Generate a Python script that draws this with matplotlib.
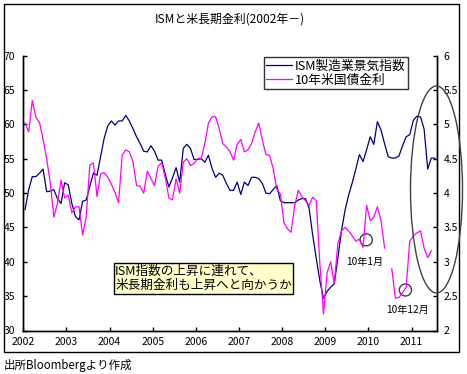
import numpy as np
import matplotlib
matplotlib.use("Agg")
import matplotlib.pyplot as plt
from matplotlib.patches import Ellipse, Rectangle

plt.rcParams['font.family'] = ['Noto Sans CJK JP', 'DejaVu Sans']

# monthly data, Jan 2002 - Jul 2011
years = [2002, 2003, 2004, 2005, 2006, 2007, 2008, 2009, 2010, 2011]

ism = [
    47.6, 50.5, 52.4, 52.4, 52.9, 53.5, 50.2, 50.3, 50.5, 49.2, 48.5, 51.5,   # 2002
    51.2, 48.5, 46.6, 46.1, 48.8, 49.0, 51.0, 52.9, 52.6, 55.3, 58.0, 59.8,   # 2003
    60.5, 59.9, 60.5, 60.5, 61.3, 60.5, 59.4, 58.2, 57.2, 56.1, 56.0, 56.9,   # 2004
    56.1, 54.8, 54.8, 52.7, 50.9, 52.2, 53.7, 51.6, 56.5, 57.1, 56.5, 54.9,   # 2005
    54.9, 55.0, 54.5, 55.5, 53.6, 52.3, 52.9, 52.6, 51.4, 50.4, 50.4, 51.6,   # 2006
    49.8, 51.6, 51.1, 52.3, 52.3, 52.1, 51.4, 50.0, 49.9, 50.5, 51.1, 48.9,   # 2007
    48.6, 48.6, 48.6, 48.6, 49.0, 49.2, 49.2, 47.8, 43.9, 40.5, 37.2, 34.7,   # 2008
    35.7, 36.3, 36.8, 40.5, 44.5, 47.5, 49.7, 51.5, 53.5, 55.6, 54.6, 56.3,   # 2009
    58.2, 57.1, 60.4, 59.2, 57.2, 55.3, 55.1, 55.1, 55.4, 56.9, 58.2, 58.5,   # 2010
    60.6, 61.2, 61.1, 59.3, 53.5, 55.1, 55.1,                                 # 2011
]

ust10 = [
    5.02, 4.89, 5.35, 5.10, 5.03, 4.78, 4.50, 4.15, 3.65, 3.85, 4.19, 3.93,   # 2002
    3.97, 3.71, 3.80, 3.80, 3.39, 3.65, 4.41, 4.44, 3.95, 4.28, 4.30, 4.23,   # 2003
    4.13, 4.01, 3.86, 4.55, 4.63, 4.60, 4.46, 4.11, 4.10, 4.00, 4.32, 4.21,   # 2004
    4.11, 4.39, 4.44, 4.22, 3.93, 3.90, 4.21, 4.00, 4.45, 4.50, 4.40, 4.43,   # 2005
    4.50, 4.51, 4.72, 5.02, 5.11, 5.11, 4.94, 4.72, 4.67, 4.60, 4.48, 4.71,   # 2006
    4.78, 4.60, 4.63, 4.72, 4.89, 5.02, 4.77, 4.56, 4.55, 4.36, 4.06, 3.99,   # 2007
    3.57, 3.48, 3.43, 3.82, 4.04, 3.95, 3.89, 3.82, 3.94, 3.89, 2.97, 2.24,   # 2008
    2.84, 3.00, 2.68, 3.26, 3.45, 3.50, 3.45, 3.38, 3.30, 3.33, 3.21, 3.82,   # 2009
    3.60, 3.65, 3.80, 3.60, 3.20, np.nan, 2.90, 2.47, 2.48, 2.55, 2.63, 3.30, # 2010
    3.38, 3.42, 3.45, 3.20, 3.06, 3.16,                                       # 2011
]

left_ticks = [30, 35, 40, 45, 50, 55, 60, 65, 70]
right_ticks = [2, 2.5, 3, 3.5, 4, 4.5, 5, 5.5, 6]
right_labels = ['2', '2.5', '3', '3.5', '4', '4.5', '5', '5.5', '6']

n_months = len(ism)

fig = plt.figure(figsize=(4.67, 3.74), dpi=100)
fig.patch.set_facecolor('white')

# outer chart frame
fig.patches.append(Rectangle((4 / 467, 1 - 352 / 374), 455 / 467, 348 / 374,
                             transform=fig.transFigure, fill=False,
                             edgecolor='black', linewidth=1.0))

ax = fig.add_axes([23.3 / 467, 1 - 330.5 / 374, 413.4 / 467, 274.8 / 374])
ax2 = ax.twinx()

x_ism = np.arange(len(ism)) + 0.5
x_ust = np.arange(len(ust10)) + 0.5

l1, = ax.plot(x_ism, ism, color='#000080', linewidth=0.9)
l2, = ax2.plot(x_ust, ust10, color='#FF00FF', linewidth=0.9)

ax.set_xlim(0, n_months)
ax.set_ylim(30, 70)
ax2.set_ylim(2, 6)

ax.set_xticks([12 * i for i in range(len(years))])
ax.set_xticklabels([str(y) for y in years])
ax.set_yticks(left_ticks)
ax2.set_yticks(right_ticks)
ax2.set_yticklabels(right_labels)

for a in (ax, ax2):
    a.spines['top'].set_visible(False)
    for s in a.spines.values():
        s.set_linewidth(1.0)
ax.tick_params(axis='both', direction='in', length=3, width=1, labelsize=7.5)
ax.tick_params(axis='y', pad=6)
ax.tick_params(axis='x', pad=5)
ax2.tick_params(axis='y', direction='in', length=3, width=1, labelsize=7.5, pad=5)

# legend
leg = ax2.legend([l1, l2], ['ISM製造業景気指数', '10年米国債金利'],
                 loc='upper left', bbox_to_anchor=(0.582, 0.995),
                 fontsize=9.2, frameon=True, fancybox=False,
                 borderpad=0.2, handlelength=2.0, handletextpad=0.2,
                 labelspacing=0.1, borderaxespad=0)
leg.get_frame().set_edgecolor('black')
leg.get_frame().set_linewidth(1.0)

# comment box
ax2.text(0.222, 0.189, 'ISM指数の上昇に連れて、\n米長期金利も上昇へと向かうか',
         transform=ax2.transAxes, fontsize=9.1, ha='left', va='center',
         linespacing=1.15,
         bbox=dict(boxstyle='square,pad=0.12', facecolor='#FFFFCC',
                   edgecolor='black', linewidth=1.0))

# small circles with month labels
ax2.add_patch(Ellipse((95.4, 3.32), 3.4, 0.175, fill=False,
                      edgecolor='#404040', linewidth=1.0))
ax2.add_patch(Ellipse((106.3, 2.59), 3.4, 0.175, fill=False,
                      edgecolor='#404040', linewidth=1.0))
ax2.text(95.1, 3.0, '10年1月', fontsize=7.3, ha='center', va='center')
ax2.text(107.0, 2.30, '10年12月', fontsize=7.3, ha='center', va='center')

# big ellipse around the latest period
fig.patches.append(Ellipse((436.5 / 467, 1 - 189.5 / 374), 52 / 467, 207 / 374,
                           transform=fig.transFigure, fill=False,
                           edgecolor='#404040', linewidth=1.0))

fig.text(230 / 467, 1 - 19 / 374, 'ISMと米長期金利(2002年－)', fontsize=8.6,
         ha='center', va='center')
fig.text(4 / 467, 1 - 365 / 374, '出所Bloombergより作成', fontsize=8.3,
         ha='left', va='center')

fig.savefig('out.png', dpi=100, facecolor='white')
